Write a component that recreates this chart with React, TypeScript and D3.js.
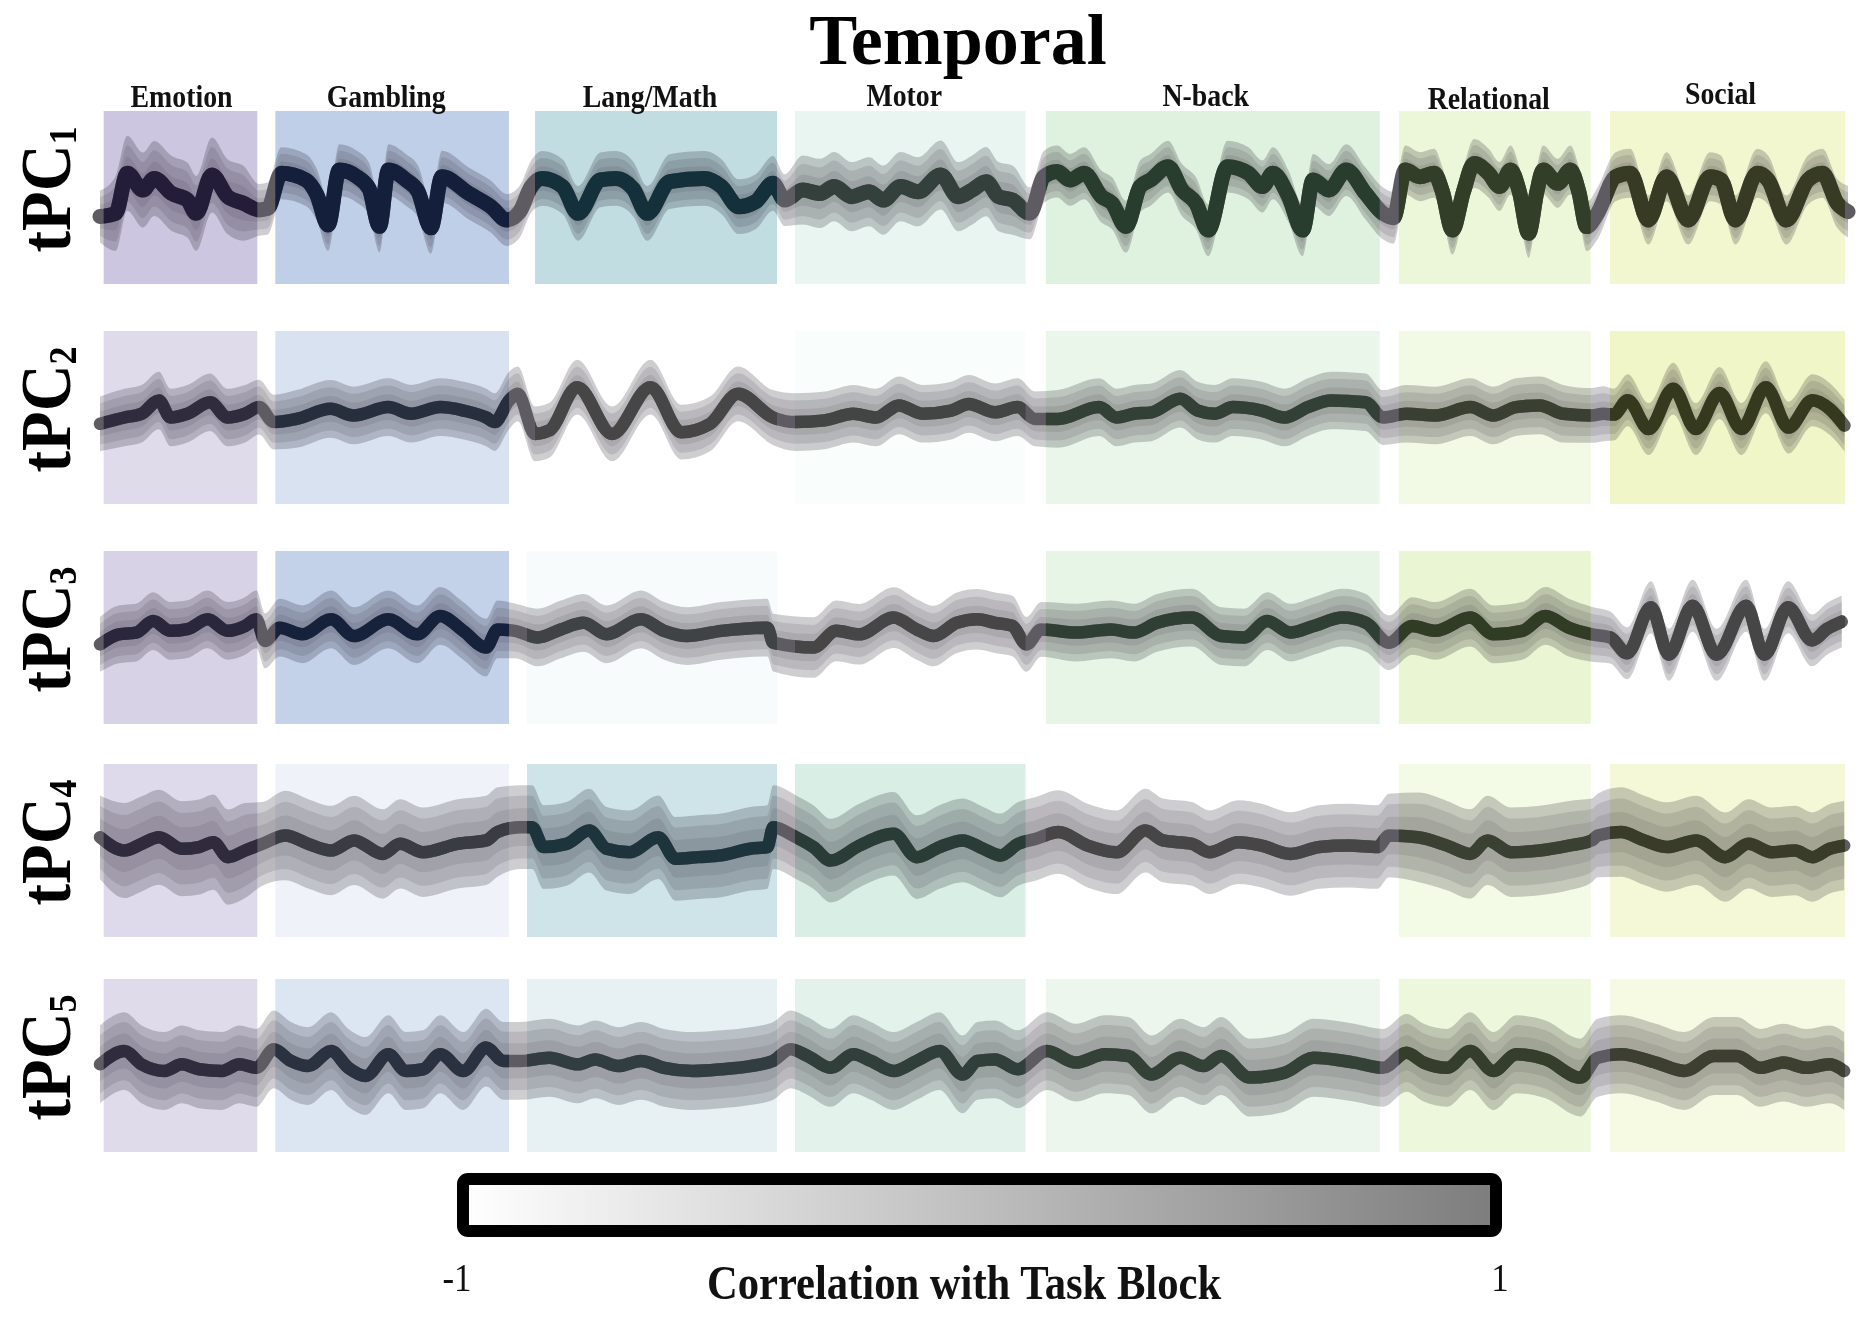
import React from 'react';
import * as d3 from 'd3';

type P = [number, number];

const TASKS = ['Emotion', 'Gambling', 'Lang/Math', 'Motor', 'N-back', 'Relational', 'Social'];
// task block limits on the timeline (0-1000 frames)
const TASK_START = [2.1, 100.3, 248.9, 397.6, 541.1, 743, 863.8];
const TASK_END = [90, 234, 387.3, 529.5, 732.1, 852.8, 998.3];
const LANG_START_LOWER = 244.3;
const TASK_COLORS = ['#c9c3de', '#c0cfe8', '#c2dde2', '#d0ebe0', '#d4ecd4', '#e4f3c8', '#eff5c4'];
const TASK_LINE_TINT = ['#211b38', '#131f3b', '#13303b', '#223a31', '#1e3a25', '#2b3a1b', '#34381b'];
const LABEL_BASE = [107, 107, 107, 106, 106, 109, 104];
const LABEL_SHIFT = [1, -6, -6, -6, -7, -6, -7];

const ROW_SUB = ['1', '2', '3', '4', '5'];

// correlation of each component with each task block
const CORR_TPC1 = [0.9, 1.0, 1.0, 0.0, 0.5, 0.4, 0.6];
const CORR_TPC2 = [0.2, 0.2, -1, -0.76, 0.0, 0.0, 0.9];
const CORR_TPC3 = [0.5, 0.9, -0.76, -1, 0.1, 0.6, -1];
const CORR_TPC4 = [0.24, -0.5, 0.6, 0.6, -1, -0.1, 0.4];
const CORR_TPC5 = [0.2, 0.1, -0.2, 0.2, -0.1, 0.3, 0.0];

// across-subject spread per task block
const SPREAD_TPC1 = [1.3, 0.9, 0.95, 1.2, 0.9, 0.85, 0.85];
const SPREAD_TPC2 = [1.0, 1.0, 0.95, 1.0, 1.0, 1.0, 0.9];
const SPREAD_TPC3 = [1.0, 1.0, 1.0, 1.05, 1.0, 1.0, 0.9];
const SPREAD_TPC4 = [1.65, 1.55, 1.45, 1.45, 1.45, 1.55, 1.55];
const SPREAD_TPC5 = [1.35, 1.35, 1.35, 1.35, 1.35, 1.35, 1.35];
const GAP_SPREAD = [0.9, 0.95, 0.95, 1.45, 1.35];

// group-mean time courses [frame, value]
const MEAN_TPC1: P[] = [
  [0, -0.66], [9, -0.55], [15.6, 0.84], [24.5, 0.26], [31, 0.66], [41, 0.14], [50, -0.09], [55, -0.55], [64, 0.78], [73, 0.03], [82, -0.2], [91, -0.43], [96, -0.38],
  [103.7, 0.84], [118, 0.6], [124, 0.1], [130.5, -0.95], [136.9, 0.95], [147, 0.72], [154, 0.3], [159.9, -1.0], [165, 0.95], [175, 0.61], [182, 0.2], [189.3, -1.05], [195.6, 0.72], [211, 0.14], [223.7, -0.32], [232.7, -0.78],
  [240, -0.5], [246.7, 0.38],
  [253, 0.66], [264.6, 0.38], [273.5, -0.55], [286.3, 0.61], [295.2, 0.66], [305, 0.3], [313.1, -0.55], [325.9, 0.55], [345.7, 0.66], [355.5, 0.38], [365.4, -0.32], [375.2, -0.14], [385, 0.49],
  [391.7, -0.09],
  [402, 0.26], [412, 0.14], [420, 0.38], [430, 0.03], [440, 0.2], [448, -0.09], [458, 0.38], [468, 0.2], [481, 0.78], [491, 0.03], [499, 0.26], [507, 0.55], [514, 0.03], [522, -0.09], [532, -0.55],
  [540, 0.72], [547.5, 0.9], [555, 0.61], [563, 0.84], [573, 0.03], [579, -0.2], [587, -1.01], [595, 0.38], [601, 0.61], [611, 1.07], [619, 0.26], [627, -0.2], [634, -1.13], [645, 1.07], [657, 0.84], [665, 0.38], [671, 0.84], [680, 0.03], [688, -1.13], [694, 0.61], [703, 0.26], [713, 0.95], [724, 0.14], [734, -0.55], [740, -0.7],
  [746.7, 0.95], [755, 0.72], [763.3, 0.84], [768, 0.2], [773.7, -1.13], [780, 0.2], [786.1, 1.18], [794.4, 0.84], [800.7, 0.38], [807, 0.95], [812, 0.2], [817.3, -1.24], [822, 0.2], [825.6, 0.95], [833.9, 0.49], [841.2, 0.95], [846, 0.2], [850.5, -1.01], [856.7, -0.55],
  [867.1, 0.72], [875.4, 0.84], [885.8, -0.78], [896.2, 0.72], [908.6, -0.78], [921.1, 0.72], [927.3, 0.61], [935.6, -0.78], [948.1, 0.84], [954.3, 0.61], [964.7, -0.78], [977.1, 0.61], [985.4, 0.84], [993.8, -0.2], [1000, -0.49],
];

const MEAN_TPC2: P[] = [
  [0, -0.22], [14, 0.0], [23.8, 0.13], [33.7, 0.59], [40.3, 0.0], [50, 0.13], [63, 0.53], [73, 0.0], [83, 0.13], [91, 0.36], [99.4, -0.16],
  [112.5, -0.05], [132, 0.3], [145, 0.07], [165, 0.36], [178, 0.13], [194.6, 0.36], [208, 0.24], [221, 0.0], [225.8, -0.16], [234, 0.59], [239, 0.82],
  [248.8, -0.57], [257, -0.45], [273, 1.05], [293, -0.57], [315, 1.05], [332.5, -0.51], [349, -0.22], [365, 0.82], [385, 0.0], [398, -0.16],
  [414.6, -0.1], [431, 0.13], [444, 0.0], [457, 0.42], [470.5, 0.13], [487, 0.24], [497, 0.47], [512, 0.18], [525, 0.36], [535, -0.05],
  [548, -0.05], [571.6, 0.36], [581.6, 0.0], [591.5, 0.13], [601.5, 0.18], [618, 0.65], [628, 0.24], [638, 0.13], [648, 0.36], [664.5, 0.24], [677.7, 0.0], [691, 0.36], [704.3, 0.59], [724, 0.53], [734, 0.0],
  [747.4, 0.13], [764, 0.07], [784, 0.36], [797, 0.07], [810, 0.36], [823.7, 0.42], [837, 0.13], [853.5, 0.07], [860, 0.13],
  [866, 0.1], [874, 0.6], [886, -0.4], [900, 1.0], [913, -0.4], [926.5, 0.85], [939, -0.4], [953, 1.05], [966, -0.35], [979.6, 0.6], [989.5, 0.3], [998, -0.28],
];

const MEAN_TPC3: P[] = [
  [0, -0.24], [10.7, 0.11], [20.6, 0.17], [30.4, 0.57], [40.3, 0.23], [50, 0.29], [61.6, 0.63], [73, 0.23], [83, 0.4], [89.5, 0.63], [94.4, -0.12],
  [102.7, 0.34], [115.8, 0.11], [132.2, 0.63], [145.3, 0.05], [165, 0.63], [181.5, 0.11], [194.6, 0.75], [207.8, 0.23], [220.9, -0.35], [227.4, 0.28], [237.3, 0.23],
  [250.4, 0.0], [263.6, 0.28], [276.7, 0.51], [289.8, 0.11], [309.5, 0.63], [322.7, 0.23], [335.8, 0.05], [355.5, 0.23], [381.8, 0.34], [385.1, -0.18],
  [408.1, -0.35], [421.2, 0.23], [434.4, 0.11], [454, 0.69], [467.2, 0.28], [477, 0.05], [490.2, 0.51], [502, 0.63], [512, 0.51], [522, 0.4], [530, -0.24],
  [538.4, 0.28], [558.3, 0.17], [578.2, 0.28], [591.5, 0.17], [604.8, 0.51], [624.7, 0.69], [641.3, 0.05], [654.5, 0.0], [667.8, 0.57], [681, 0.17], [694.3, 0.4], [711, 0.69], [724.2, 0.51], [737.4, -0.18],
  [750.7, 0.4], [764, 0.23], [783.9, 0.69], [797.1, 0.11], [813.7, 0.23], [827, 0.75], [840.3, 0.34], [853.5, 0.11],
  [864, 0.0], [873.6, -0.55], [887.3, 1.05], [897.5, -0.6], [911.1, 1.1], [924.8, -0.6], [941.8, 1.1], [952.1, -0.6], [965.7, 1.05], [979.3, -0.1], [988, 0.3], [996.4, 0.55],
];

const MEAN_TPC4: P[] = [
  [0, 0.46], [14, 0.0], [23.8, 0.23], [33.7, 0.46], [46.8, 0.06], [56.7, 0.12], [64.9, 0.29], [73.1, -0.23], [83, 0.0], [92.8, 0.23],
  [106, 0.52], [119.1, 0.23], [132.2, 0.0], [145.3, 0.35], [161.8, -0.12], [171.6, 0.23], [184.8, -0.06], [204.5, 0.23], [220.9, 0.35], [227.4, 0.64], [240.6, 0.81],
  [247.2, 0.81], [253.7, 0.12], [266.9, 0.23], [279.9, 0.69], [289.8, 0.06], [303, -0.06], [319.4, 0.46], [329.3, -0.29], [342.4, -0.23], [355.5, -0.17], [371.9, 0.06], [381.8, 0.12], [385.1, 0.81],
  [398.2, 0.46], [408.1, 0.12], [418, -0.35], [434.4, 0.17], [454, 0.58], [467.2, -0.23], [480.3, 0.12], [493.5, 0.35], [505.3, 0.06], [515.2, -0.17], [525.2, 0.23], [535.1, 0.4],
  [548.4, 0.64], [565, 0.17], [581.6, -0.06], [598.1, 0.69], [608.1, 0.35], [624.7, 0.23], [634.6, -0.06], [651.2, 0.29], [664.5, 0.17], [681, -0.12], [697.6, 0.12], [714.2, 0.17], [730.8, 0.12], [737.4, 0.52],
  [754, 0.46], [770.6, 0.17], [783.9, -0.12], [793.8, 0.35], [807.1, -0.06], [823.7, 0.0], [840.3, 0.17], [853.5, 0.35], [856.8, 0.52],
  [870.1, 0.64], [883.4, 0.35], [896.6, 0.12], [913.2, 0.35], [929.8, -0.23], [943.1, 0.23], [956.3, -0.06], [969.6, 0.0], [979.6, -0.23], [989.5, 0.06], [997.8, 0.17],
];

const MEAN_TPC5: P[] = [
  [0, 0.04], [14, 0.5], [23.8, 0.04], [37, -0.19], [46.8, 0.04], [56.7, -0.13], [69.8, -0.19], [79.7, 0.04], [89.5, -0.08],
  [99.4, 0.56], [109.2, 0.16], [119.1, -0.02], [132.2, 0.5], [142.1, -0.08], [151.9, -0.36], [165, 0.39], [174.9, -0.19], [184.8, -0.13], [194.6, 0.39], [207.8, -0.19], [220.9, 0.62], [230.7, 0.16], [240.6, 0.16],
  [257, 0.27], [273.4, 0.04], [283.3, 0.21], [296.4, -0.02], [309.5, 0.16], [322.7, -0.08], [339.1, -0.19], [355.5, -0.13], [372, -0.02], [385.1, 0.16], [395, 0.56],
  [404.8, 0.33], [418, -0.08], [431, 0.39], [441, 0.16], [454, -0.19], [467.2, 0.16], [480.3, 0.5], [493.5, -0.31], [502, 0.16], [512, 0.21], [525, -0.13],
  [541.8, 0.5], [558.3, 0.1], [574.9, 0.39], [588.2, 0.33], [601.5, -0.31], [618, 0.27], [631.3, -0.02], [641.3, 0.33], [657.8, -0.42], [677.7, -0.25], [694.3, 0.27], [717.5, 0.1], [734.1, -0.08],
  [747.4, 0.44], [757.3, 0.1], [770.6, -0.08], [783.9, 0.5], [797.1, -0.19], [810.4, 0.39], [827, 0.21], [846.9, -0.42], [856.8, 0.27],
  [870.1, 0.39], [890, 0.1], [906.6, -0.19], [923.2, 0.33], [936.4, 0.33], [949.7, -0.08], [963, 0.1], [976.2, -0.08], [989.5, 0.04], [997.8, -0.19],
];

const MEANS = [MEAN_TPC1, MEAN_TPC2, MEAN_TPC3, MEAN_TPC4, MEAN_TPC5];
const CORRS = [CORR_TPC1, CORR_TPC2, CORR_TPC3, CORR_TPC4, CORR_TPC5];
const SPREADS = [SPREAD_TPC1, SPREAD_TPC2, SPREAD_TPC3, SPREAD_TPC4, SPREAD_TPC5];

const COLORBAR_TICKS = ['-1', '1'];

const ROW_TOP = [111, 331, 551, 764, 979];
const BOX_H = 173;
const FONT = "'Liberation Serif', 'Times New Roman', serif";

export default function App() {
  const W = 1869;
  const H = 1317;
  const x = d3.scaleLinear().domain([0, 1000]).range([100, 1848]);
  const cbScale = d3.scaleLinear().domain([-1, 1]).range([463, 1496]);

  const taskStart = (r: number, i: number) => (i === 2 && r >= 2 ? LANG_START_LOWER : TASK_START[i]);

  const rows = MEANS.map((mean, r) => {
    const y = d3.scaleLinear().domain([-3, 3]).range([ROW_TOP[r] + BOX_H, ROW_TOP[r]]);
    const spreadAt = (t: number) => {
      for (let i = 0; i < TASKS.length; i++) {
        if (t >= taskStart(r, i) && t <= TASK_END[i]) return SPREADS[r][i];
      }
      return GAP_SPREAD[r];
    };
    const band = (k: number) =>
      d3
        .area<P>()
        .x((d) => x(d[0]))
        .y0((d) => y(d[1] - spreadAt(d[0]) * k))
        .y1((d) => y(d[1] + spreadAt(d[0]) * k))
        .curve(d3.curveMonotoneX)(mean) as string;
    const line = d3
      .line<P>()
      .x((d) => x(d[0]))
      .y((d) => y(d[1]))
      .curve(d3.curveMonotoneX)(mean) as string;
    return { y, outer: band(1), mid: band(0.75), inner: band(0.45), line };
  });

  return (
    <svg
      width={W}
      height={H}
      viewBox={`0 0 ${W} ${H}`}
      style={{ position: 'absolute', left: 0, top: 0, background: '#ffffff' }}
      fontFamily={FONT}
    >
      <defs>
        <linearGradient id="cbgrad" x1="0" x2="1" y1="0" y2="0">
          <stop offset="0%" stopColor="#ffffff" />
          <stop offset="100%" stopColor="#7d7d7d" />
        </linearGradient>
        {rows.map((_, r) =>
          TASKS.map((_, i) => (
            <clipPath id={`clip-${r}-${i}`} key={`c${r}-${i}`}>
              <rect
                x={x(taskStart(r, i))}
                y={ROW_TOP[r] - 40}
                width={x(TASK_END[i]) - x(taskStart(r, i))}
                height={BOX_H + 80}
              />
            </clipPath>
          ))
        )}
      </defs>

      <rect x={0} y={0} width={W} height={H} fill="#ffffff" />

      {/* Title */}
      <text x={958} y={64} textAnchor="middle" fontSize={72} fontWeight="bold" fill="#000">
        Temporal
      </text>

      {/* Task labels */}
      {TASKS.map((name, i) => (
        <text
          key={name}
          transform={`translate(${(x(TASK_START[i]) + x(TASK_END[i])) / 2 + LABEL_SHIFT[i]},${LABEL_BASE[i]}) scale(0.87,1)`}
          textAnchor="middle"
          fontSize={32}
          fontWeight="bold"
          fill="#111"
        >
          {name}
        </text>
      ))}

      {rows.map((row, r) => (
        <g key={`row${r}`}>
          {/* subject traces envelope */}
          <path d={row.outer} fill="#8a898f" fillOpacity={0.42} />
          <path d={row.mid} fill="#8a898f" fillOpacity={0.3} />
          <path d={row.inner} fill="#8a898f" fillOpacity={0.3} />
          {/* task blocks, shaded by correlation */}
          {TASKS.map((name, i) => {
            const s = (CORRS[r][i] + 1) / 2;
            return (
              <rect
                key={name}
                x={x(taskStart(r, i))}
                y={ROW_TOP[r]}
                width={x(TASK_END[i]) - x(taskStart(r, i))}
                height={BOX_H}
                fill={d3.interpolateRgb('#ffffff', TASK_COLORS[i])(s)}
                style={{ mixBlendMode: 'multiply' }}
              />
            );
          })}
          {/* mean time course */}
          <path d={row.line} fill="none" stroke="#5e5b63" strokeWidth={r === 0 ? 15 : 12.5} strokeLinejoin="round" strokeLinecap="round" />
          {TASKS.map((name, i) => {
            const s = (CORRS[r][i] + 1) / 2;
            return (
              <path
                key={name}
                d={row.line}
                clipPath={`url(#clip-${r}-${i})`}
                fill="none"
                stroke={d3.interpolateRgb('#464646', TASK_LINE_TINT[i])(s)}
                strokeWidth={r === 0 ? 15 : 12.5}
                strokeLinejoin="round"
                strokeLinecap="round"
              />
            );
          })}
          {/* row label */}
          <text
            transform={`translate(70,${ROW_TOP[r] + BOX_H / 2 - 8}) rotate(-90) scale(0.9,1)`}
            textAnchor="middle"
            fontSize={72}
            fontWeight="bold"
            fill="#000"
          >
            tPC
            <tspan fontSize={40} dy={6}>
              {ROW_SUB[r]}
            </tspan>
          </text>
        </g>
      ))}

      {/* Colorbar */}
      <rect
        x={cbScale(-1)}
        y={1179}
        width={cbScale(1) - cbScale(-1)}
        height={52}
        rx={5}
        fill="url(#cbgrad)"
        stroke="#000"
        strokeWidth={12}
      />
      {COLORBAR_TICKS.map((t) => (
        <text
          key={t}
          transform={`translate(${cbScale(+t) + (+t < 0 ? -6 : 4)},1291) scale(0.87,1)`}
          textAnchor="middle"
          fontSize={40}
          fill="#111"
        >
          {t}
        </text>
      ))}
      <text
        transform={`translate(964,1299) scale(0.87,1)`}
        textAnchor="middle"
        fontSize={49}
        fontWeight="bold"
        fill="#111"
      >
        Correlation with Task Block
      </text>
    </svg>
  );
}
